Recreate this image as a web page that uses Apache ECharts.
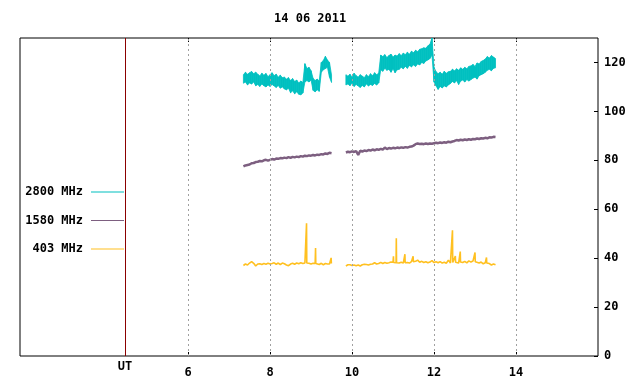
<!DOCTYPE html>
<html>
<head>
<meta charset="utf-8">
<script src="https://cdn.jsdelivr.net/npm/echarts@6/dist/echarts.min.js"></script>
<style>html,body{margin:0;padding:0;background:#fff}#c{width:640px;height:384px}</style>
</head>
<body>
<div id="c"></div>
<script>
// Sampling: first sample time (UT hours) and step (hours)
const startTime = 7.35;
const stepHours = 0.05;
const seriesNames = ['2800 MHz', '1580 MHz', '403 MHz'];
const xTickValues = [6, 8, 10, 12, 14];
const yTickValues = [0, 20, 40, 60, 80, 100, 120];
const utMarker = 4.46;
const titleText = '14 06 2011';

// 2800 MHz: lower and upper envelope of the noisy record
const flux2800Low = [
  111.5, 112, 110.8, 111.6, 111.2, 112, 110.5, 111, 110.2, 111.2,
  110.5, 110, 110.8, 110.2, 111, 110.4, 109.8, 110.6, 109.5, 110,
  109.2, 108.8, 109.5, 107.6, 108.4, 107.2, 108, 107, 106.8, 107.5,
  112, 112.6, 112, 112.8, 108.6, 108, 108.8, 108.2, 116, 117,
  117.5, 118, 114, 111.8,
  null, null, null, null, null, null,
  110.8, 111.2, 110.5, 111.6, 110.2, 111, 110.4, 109.8, 110.6, 110, 111.2, 110.4, 111, 110.6, 111.4, 110.8, 111.6,
  117, 116.4, 117.6, 116.8, 117.2, 116, 117.4, 115.8, 117,
  117.2, 118, 117.4, 118.4, 117.6, 118.8, 118.2, 119, 118.4, 119.4, 119, 120, 119.6, 120.6, 121, 121.6, 123,
  112, 110.4, 109, 110.2, 109.6, 110.4, 110, 110.8,
  111.4, 112.2, 111.6, 112.6, 111, 112.4, 112.8, 112, 113, 112.4,
  113, 113.6, 114, 113.2, 114.6, 115, 115.4,
  116, 116.8, 117.2, 116.6, 117.6, 117.8
];
const flux2800High = [
  115, 116, 115.2, 115.8, 116.3, 115.4, 116, 115.2, 114.5, 115.6,
  114.8, 115.5, 114.2, 115, 115.8, 114.6, 115.2, 114, 114.8, 113.8,
  114, 113.2, 113.8, 112.6, 113.4, 112.2, 112.8, 111.6, 112.4, 111.8,
  119.5, 117.5, 118, 116.6, 113.5, 112.6, 113.2, 112.4, 120, 120.8,
  122.5, 121, 120, 114.8,
  null, null, null, null, null, null,
  115, 114.4, 115.2, 114, 115.6, 114.6, 114, 115, 114.4, 113.8, 115, 114.2, 115.4, 114.6, 115.8, 115, 115.6,
  123, 122.4, 123.2, 122, 122.8, 123.4, 122.2, 123, 122.6,
  123.6, 122.8, 123.8, 123.2, 124.2, 123.4, 124.6, 124, 125, 124.4, 125.4, 125.6, 126, 125.8, 126.8, 127.4, 130,
  118, 116.2, 115.4, 116, 115.2, 116.4, 115.6, 116.2,
  116.4, 117.2, 116.6, 117.4, 116.8, 117.8, 117.2, 118, 117.4, 118.4,
  118.6, 119.2, 118.4, 119.8, 119.4, 120.4, 120.8,
  121.4, 122.4, 121.8, 122.8, 122.2, 121.6
];

const flux1580 = [
  77.5, 77.9, 78.1, 78.3, 78.8, 78.9, 79.3, 79.4, 79.7, 79.6,
  80.0, 80.2, 79.9, 80.2, 80.5, 80.3, 80.7, 80.6, 80.9, 80.8,
  81.1, 80.9, 81.3, 81.0, 81.4, 81.2, 81.5, 81.3, 81.7, 81.5,
  81.9, 81.7, 82.0, 81.9, 82.2, 82.0, 82.3, 82.2, 82.5, 82.4,
  82.8, 82.6, 83.1, 82.9,
  null, null, null, null, null, null,
  83.2, 83.5, 83.3, 83.7, 83.4, 83.8, 82.2, 83.9, 83.6, 84.0,
  83.8, 84.2, 84.0, 84.4, 84.1, 84.5, 84.3, 84.7, 84.4, 85.2,
  84.6, 85.0, 84.8, 85.1, 84.9, 85.2, 85.0, 85.3, 85.1, 85.4,
  85.2, 85.5, 85.6, 86.0, 86.6, 86.9, 86.7, 86.8, 86.6, 86.9,
  86.7, 86.9, 86.8, 87.0, 87.2, 87.0, 87.3, 87.1, 87.4, 87.2,
  87.6, 87.4, 87.7, 87.9, 88.3, 88.1, 88.4, 88.2, 88.5, 88.3,
  88.6, 88.4, 88.7, 88.6, 88.9, 88.7, 89.0, 88.9, 89.2, 89.0,
  89.4, 89.3, 89.6, 89.5
];

// 403 MHz: background level, plus short bursts [time, level, peak]
const flux403 = [
  37.0, 37.6, 37.2, 38.0, 38.6, 37.9, 36.8, 37.6, 37.7, 37.4,
  37.8, 37.5, 37.9, 37.6, 37.8, 38.1, 37.5, 38.0, 37.4, 38.0,
  37.7, 37.2, 36.9, 37.6, 37.9, 37.5, 38.0, 37.7, 38.1, 37.8,
  38.0, 38.0, 37.9, 37.6, 37.9, 37.8, 37.8, 37.4, 37.9, 37.3,
  37.8, 37.6, 37.6, 37.8,
  null, null, null, null, null, null,
  36.8, 37.3, 37.3, 37.0, 37.2, 36.9, 37.2, 36.8, 37.3, 37.5,
  37.4, 37.2, 37.5, 37.6, 38.1, 37.6, 37.8, 38.3, 37.8, 38.2,
  37.9, 38.1, 38.4, 38.3, 38.2, 38.1, 38.0, 38.3, 38.0, 38.2,
  38.2, 38.0, 38.6, 38.4, 38.7, 39.2, 38.3, 38.7, 38.2, 38.5,
  38.1, 38.4, 39.0, 38.2, 38.5, 38.1, 38.6, 38.0, 38.3, 37.9,
  39.2, 38.0, 38.2, 38.3, 38.3, 38.0, 38.4, 38.2, 38.7, 38.1,
  38.9, 38.4, 38.8, 38.5, 38.6, 38.0, 38.4, 37.7, 38.1, 37.9,
  37.8, 37.2, 37.6, 37.3
];
const bursts403 = [
  [8.89, 38.0, 54.3], [9.11, 37.8, 44.1], [9.49, 37.8, 40.1],
  [11.01, 38.2, 40.8], [11.08, 38.1, 48.1], [11.29, 38.1, 41.6], [11.49, 38.5, 40.8],
  [12.45, 38.2, 51.4], [12.52, 38.3, 40.9], [12.64, 38.4, 42.7], [13.00, 38.5, 42.3], [13.28, 38.0, 40.3]
];

function toPairs(arr) {
  return arr.map((v, i) => [startTime + i * stepHours, v === null ? '-' : v]);
}
// band pieces between consecutive samples: [t, lo, hi, tNext, loNext, hiNext]
function bandPieces(lo, hi) {
  const out = [];
  for (let i = 0; i + 1 < lo.length; i++) {
    if (lo[i] === null || lo[i + 1] === null) continue;
    out.push([startTime + i * stepHours, lo[i], hi[i], startTime + (i + 1) * stepHours, lo[i + 1], hi[i + 1]]);
  }
  return out;
}
function withBursts(arr, bursts) {
  const pts = toPairs(arr);
  const halfWidth = 0.006;
  bursts.forEach(b => {
    pts.push([b[0] - halfWidth, b[1]], [b[0], b[2]], [b[0] + halfWidth, b[1]]);
  });
  pts.sort((a, b) => a[0] - b[0]);
  return pts;
}

const FONT = "'DejaVu Sans Mono', 'Liberation Mono', monospace";
const chart = echarts.init(document.getElementById('c'), null, {renderer: 'canvas'});

const gridLines = xTickValues.map(v => ({xAxis: v}));
gridLines.push({
  xAxis: utMarker,
  lineStyle: {color: '#8b0000', type: 'solid', width: 1},
  label: {show: true, position: 'start', formatter: 'UT', distance: 5,
          color: '#000', fontFamily: FONT, fontWeight: 'bold', fontSize: 12}
});

const CYAN = '#00c0c0', PURPLE = '#7d5f80', ORANGE = '#ffc020';

chart.setOption({
  animation: false,
  backgroundColor: '#ffffff',
  title: {
    text: titleText, left: 274, top: 13, padding: 0,
    textStyle: {fontFamily: FONT, fontWeight: 'bold', fontSize: 12, color: '#000'}
  },
  legend: {
    data: seriesNames,
    orient: 'vertical',
    align: 'right',
    right: 516,
    top: 186,
    padding: 0,
    itemGap: 16.5,
    itemWidth: 33,
    itemHeight: 1,
    icon: 'rect',
    selectedMode: false,
    formatter: n => n.padStart(8, ' '),
    textStyle: {fontFamily: FONT, fontWeight: 'bold', fontSize: 12, color: '#000', padding: [0, 3, 0, 0]}
  },
  grid: {
    left: 20, right: 42, top: 38, bottom: 28,
    show: true, borderColor: '#000', borderWidth: 1, backgroundColor: 'transparent'
  },
  xAxis: [{
    type: 'value', min: 1.9, max: 16, position: 'bottom',
    axisLine: {show: false},
    splitLine: {show: false},
    axisTick: {show: true, inside: true, length: 4, customValues: xTickValues, lineStyle: {color: '#000'}},
    axisLabel: {customValues: xTickValues, margin: 11, color: '#000', fontFamily: FONT, fontWeight: 'bold', fontSize: 12}
  }, {
    type: 'value', min: 1.9, max: 16, position: 'top',
    axisLine: {show: false},
    splitLine: {show: false},
    axisTick: {show: true, inside: true, length: 4, customValues: xTickValues, lineStyle: {color: '#000'}},
    axisLabel: {show: false}
  }],
  yAxis: {
    type: 'value', min: 0, max: 130, position: 'right',
    axisLine: {show: false},
    splitLine: {show: false},
    axisTick: {show: true, inside: true, length: 4, customValues: yTickValues, lineStyle: {color: '#000'}},
    axisLabel: {customValues: yTickValues, margin: 6, color: '#000', fontFamily: FONT, fontWeight: 'bold', fontSize: 12}
  },
  series: [
    {
      name: seriesNames[0], type: 'custom', data: bandPieces(flux2800Low, flux2800High),
      itemStyle: {color: CYAN}, z: 3, silent: true,
      encode: {x: [0, 3], y: [1, 2, 4, 5]},
      renderItem: function (params, api) {
        const a = api.coord([api.value(0), api.value(1)]);
        const b = api.coord([api.value(3), api.value(4)]);
        const c = api.coord([api.value(3), api.value(5)]);
        const d = api.coord([api.value(0), api.value(2)]);
        return {
          type: 'polygon',
          shape: {points: [a, b, c, d]},
          style: {fill: CYAN, stroke: CYAN, lineWidth: 0.8}
        };
      }
    },
    {
      name: seriesNames[1], type: 'line', data: toPairs(flux1580),
      showSymbol: false, symbol: 'none', connectNulls: false,
      lineStyle: {color: PURPLE, width: 2.5}, itemStyle: {color: PURPLE}, z: 3
    },
    {
      name: seriesNames[2], type: 'line', data: withBursts(flux403, bursts403),
      showSymbol: false, symbol: 'none', connectNulls: false,
      lineStyle: {color: ORANGE, width: 1.6}, itemStyle: {color: ORANGE}, z: 3
    },
    {
      name: 'grid', type: 'line', data: [], z: 4,
      markLine: {
        silent: true, symbol: ['none', 'none'],
        label: {show: false},
        lineStyle: {color: '#a0a0a0', type: [2, 3], width: 1},
        data: gridLines
      }
    }
  ]
});
</script>
</body>
</html>
